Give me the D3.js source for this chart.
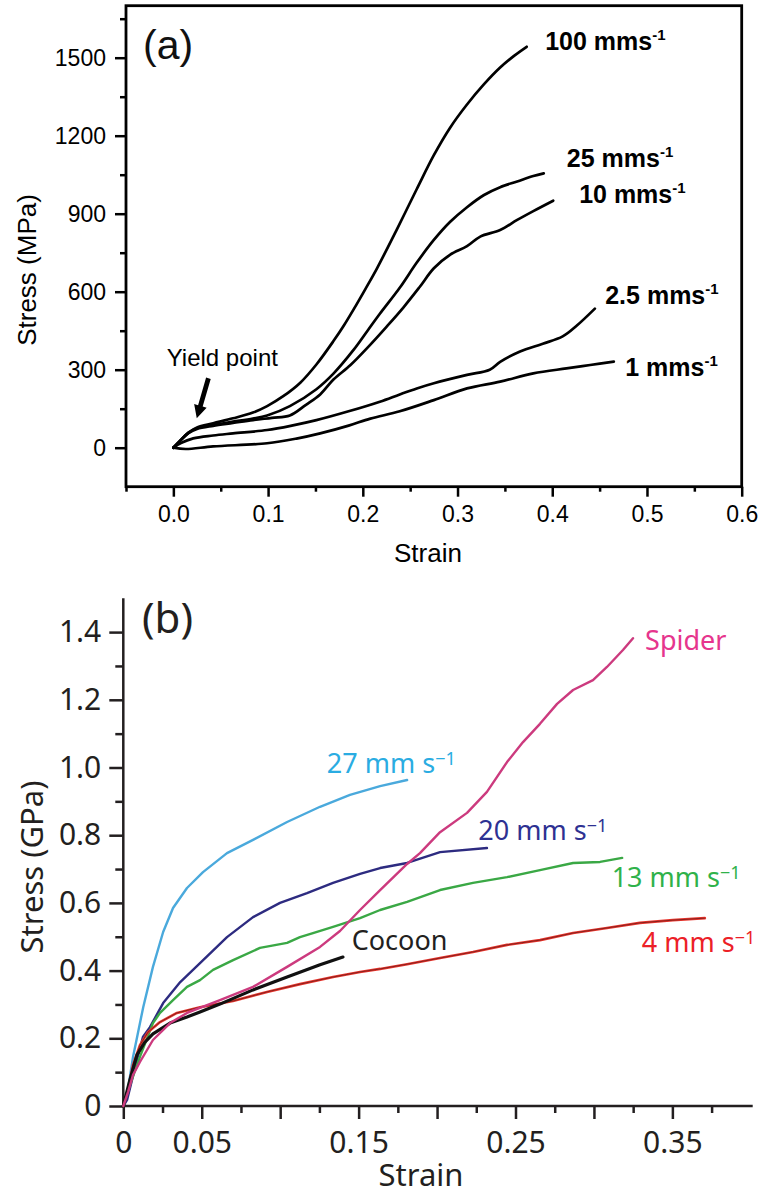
<!DOCTYPE html>
<html><head><meta charset="utf-8">
<script src="https://cdn.jsdelivr.net/npm/d3@7"></script>
<style>body{margin:0;background:#fff} svg{display:block}</style>
</head><body>
<svg id="c" width="762" height="1194"></svg>
<script>
// ---------- Panel (a) data: strain, stress (MPa) ----------
const aTicksY = [0,300,600,900,1200,1500];
const aMinorY = [150,450,750,1050,1350,1650];
const aTicksX = [0,0.1,0.2,0.3,0.4,0.5,0.6];
const aMinorX = [-0.05,0.05,0.15,0.25,0.35,0.45,0.55];
const aRateLabels = ["100 mms","25 mms","10 mms","2.5 mms","1 mms"];
const a100 = [[0,0],[0.008,30],[0.016,58],[0.025,78],[0.042,94],[0.063,113],[0.084,135],[0.099,160],[0.116,198],[0.134,250],[0.151,320],[0.169,410],[0.180,470],[0.190,530],[0.203,612],[0.215,690],[0.236,840],[0.257,995],[0.275,1125],[0.292,1230],[0.310,1320],[0.328,1398],[0.345,1462],[0.360,1508],[0.373,1542]];
const a25 = [[0,0],[0.008,30],[0.016,58],[0.025,75],[0.042,88],[0.063,100],[0.084,112],[0.099,124],[0.123,160],[0.151,225],[0.169,285],[0.190,375],[0.205,450],[0.218,515],[0.239,615],[0.257,712],[0.275,799],[0.292,868],[0.310,925],[0.328,972],[0.345,1002],[0.363,1024],[0.380,1045],[0.391,1055]];
const a10 = [[0,0],[0.008,30],[0.016,56],[0.025,72],[0.042,84],[0.063,95],[0.084,106],[0.104,115],[0.123,124],[0.140,165],[0.155,205],[0.169,262],[0.187,318],[0.205,385],[0.225,465],[0.243,540],[0.260,618],[0.275,690],[0.292,742],[0.310,775],[0.324,812],[0.345,837],[0.363,876],[0.380,910],[0.401,950]];
const a2_5 = [[0,0],[0.008,18],[0.021,36],[0.042,47],[0.063,55],[0.099,68],[0.125,85],[0.151,106],[0.185,140],[0.218,177],[0.239,205],[0.257,228],[0.275,248],[0.310,280],[0.334,300],[0.345,330],[0.366,370],[0.390,400],[0.411,428],[0.426,470],[0.445,535]];
const a1 = [[0,0],[0.013,-5],[0.042,5],[0.099,17],[0.130,35],[0.155,55],[0.185,85],[0.208,112],[0.239,140],[0.275,183],[0.310,228],[0.345,254],[0.380,286],[0.415,305],[0.440,318],[0.465,331]];
const aLabelAt = [[0.3925,1530],[0.4154,1080],[0.4284,941],[0.4559,553],[0.477,276]];
const aYield = {text:"Yield point", at:[-0.007,315], tail:[0.037,267], tip:[0.0247,113]};

// ---------- Panel (b) data: strain, stress (GPa) ----------
const bTicksY = [0,0.2,0.4,0.6,0.8,1.0,1.2,1.4];
const bMinorY = [0.1,0.3,0.5,0.7,0.9,1.1,1.3];
const bTicksX = [0,0.05,0.1,0.15,0.2,0.25,0.3,0.35];
const bLabeledX = [0,0.05,0.15,0.25,0.35];
const bMinorX = [0.025,0.075,0.125,0.175,0.225,0.275,0.325,0.375];
const b27 = [[0,0],[0.0024,0.032],[0.0062,0.145],[0.0127,0.292],[0.0189,0.411],[0.0254,0.514],[0.0317,0.585],[0.0406,0.644],[0.0508,0.691],[0.0661,0.747],[0.0827,0.786],[0.1044,0.839],[0.1254,0.884],[0.1445,0.919],[0.1637,0.945],[0.1809,0.963]];
const b20 = [[0,0],[0.0024,0.018],[0.0087,0.136],[0.0125,0.204],[0.017,0.233],[0.0254,0.304],[0.0363,0.366],[0.0489,0.422],[0.0661,0.499],[0.0827,0.558],[0.0999,0.6],[0.1171,0.629],[0.1337,0.659],[0.1509,0.686],[0.1637,0.703],[0.1809,0.718],[0.2019,0.75],[0.2318,0.762]];
const b13 = [[0,0],[0.0042,0.062],[0.0106,0.145],[0.0189,0.245],[0.0234,0.275],[0.0317,0.313],[0.0406,0.352],[0.0489,0.372],[0.0572,0.402],[0.07,0.431],[0.0871,0.467],[0.1044,0.482],[0.1126,0.499],[0.1209,0.511],[0.1337,0.529],[0.1509,0.555],[0.1637,0.579],[0.1809,0.603],[0.2019,0.638],[0.2229,0.659],[0.2446,0.676],[0.2656,0.697],[0.2867,0.718],[0.3039,0.721],[0.318,0.733]];
const b4 = [[0,0],[0.003,0.047],[0.0062,0.121],[0.0106,0.18],[0.0157,0.218],[0.0234,0.248],[0.0342,0.275],[0.0489,0.292],[0.0699,0.31],[0.0916,0.337],[0.1126,0.36],[0.1337,0.381],[0.1509,0.396],[0.1637,0.405],[0.1809,0.419],[0.2019,0.437],[0.2229,0.455],[0.2446,0.476],[0.2656,0.49],[0.2867,0.511],[0.3083,0.526],[0.3293,0.541],[0.3503,0.549],[0.3707,0.555]];
const bCocoon = [[0,0],[0.0042,0.077],[0.0087,0.151],[0.0138,0.189],[0.0189,0.213],[0.0298,0.245],[0.0406,0.263],[0.0489,0.278],[0.0616,0.301],[0.0827,0.343],[0.1044,0.381],[0.1254,0.417],[0.14,0.44]];
const bSpider = [[0,0],[0.003,0.041],[0.0062,0.092],[0.0106,0.13],[0.0189,0.195],[0.0298,0.245],[0.0406,0.275],[0.0616,0.313],[0.0827,0.352],[0.1044,0.411],[0.1254,0.47],[0.1381,0.517],[0.1509,0.579],[0.1637,0.638],[0.1809,0.715],[0.1891,0.747],[0.2019,0.809],[0.2191,0.866],[0.2318,0.928],[0.2446,1.016],[0.2548,1.075],[0.2656,1.129],[0.2765,1.188],[0.2867,1.229],[0.2994,1.258],[0.3083,1.297],[0.3185,1.347],[0.3249,1.382]];
const bNames = ["27 mm s","20 mm s","13 mm s","4 mm s","Cocoon","Spider"];
const bLabelAt = [[0.1297,0.985],[0.2263,0.786],[0.3113,0.646],[0.3305,0.456],[0.1456,0.461],[0.3326,1.347]];

const svg = d3.select("#c");

// ================= Panel (a) =================
const FA = "'Liberation Sans', Arial, Helvetica, sans-serif";
const xA = d3.scaleLinear().domain([-0.05,0.6]).range([126,741.7]);
const yA = d3.scaleLinear().domain([-150,1700]).range([486.7,5.7]);
const gA = svg.append("g").attr("font-family",FA);

function styleAxis(g, size, font, color, sw){
  g.attr("font-family",font).attr("font-size",size);
  g.select(".domain").remove();
  g.selectAll(".tick line").attr("stroke",color).attr("stroke-width",sw);
  g.selectAll(".tick text").attr("fill",color);
}
gA.append("g").attr("transform",`translate(${xA(-0.05)},0)`)
  .call(d3.axisLeft(yA).tickValues(aTicksY).tickSize(11).tickPadding(9).tickFormat(d3.format("d")))
  .call(g=>styleAxis(g,23,FA,"#000",2.5));
gA.append("g").attr("transform",`translate(${xA(-0.05)},0)`)
  .call(d3.axisLeft(yA).tickValues(aMinorY).tickSize(6).tickFormat(""))
  .call(g=>styleAxis(g,23,FA,"#000",2.5));
gA.append("g").attr("transform",`translate(0,${yA(-150)})`)
  .call(d3.axisBottom(xA).tickValues(aTicksX).tickSize(10).tickPadding(9).tickFormat(d3.format(".1f")))
  .call(g=>styleAxis(g,23,FA,"#000",2.5));
gA.append("g").attr("transform",`translate(0,${yA(-150)})`)
  .call(d3.axisBottom(xA).tickValues(aMinorX).tickSize(5).tickFormat(""))
  .call(g=>styleAxis(g,23,FA,"#000",2.5));
gA.append("rect")
  .attr("x",xA(-0.05)).attr("y",yA(1700))
  .attr("width",xA(0.6)-xA(-0.05)).attr("height",yA(-150)-yA(1700))
  .attr("fill","none").attr("stroke","#000").attr("stroke-width",2.8);

const lineA = d3.line().x(d=>xA(d[0])).y(d=>yA(d[1])).curve(d3.curveCatmullRom.alpha(0.5));
[a100,a25,a10,a2_5,a1].forEach(s=>{
  gA.append("path").attr("d",lineA(s)).attr("fill","none").attr("stroke","#000")
    .attr("stroke-width",2.7).attr("stroke-linejoin","round").attr("stroke-linecap","round");
});
aRateLabels.forEach((t,i)=>{
  const tx = gA.append("text").attr("x",xA(aLabelAt[i][0])).attr("y",yA(aLabelAt[i][1]))
    .attr("font-size",25).attr("font-weight","bold").attr("fill","#000");
  tx.append("tspan").text(t);
  tx.append("tspan").attr("font-size",15).attr("dy",-10).text("-1");
});
gA.append("text").attr("x",xA(aYield.at[0])).attr("y",yA(aYield.at[1]))
  .attr("font-size",24).attr("fill","#000").text(aYield.text);
(function(){
  const x1=xA(aYield.tail[0]), y1=yA(aYield.tail[1]), x2=xA(aYield.tip[0]), y2=yA(aYield.tip[1]);
  const L=Math.hypot(x2-x1,y2-y1), ux=(x2-x1)/L, uy=(y2-y1)/L, nx=-uy, ny=ux;
  const sw=2.4, hl=13, hw=6.5;
  const bx=x2-ux*hl, by=y2-uy*hl;
  const pts=[[x1+nx*sw,y1+ny*sw],[bx+nx*sw,by+ny*sw],[bx+nx*hw,by+ny*hw],[x2,y2],[bx-nx*hw,by-ny*hw],[bx-nx*sw,by-ny*sw],[x1-nx*sw,y1-ny*sw]];
  gA.append("path").attr("d","M"+pts.map(p=>p.join(",")).join("L")+"Z").attr("fill","#000");
})();
gA.append("text").attr("x",143).attr("y",59).attr("font-size",41).attr("fill","#111").text("(a)");
gA.append("text").attr("x",428).attr("y",562).attr("text-anchor","middle").attr("font-size",26).attr("fill","#000").text("Strain");
gA.append("text").attr("transform","translate(36,270) rotate(-90)").attr("text-anchor","middle")
  .attr("font-size",26).attr("fill","#000").text("Stress (MPa)");

// ================= Panel (b) =================
const FB = "'Noto Sans', 'Open Sans', sans-serif";
const xB = d3.scaleLinear().domain([0,0.4012]).range([123.3,752.7]);
const yB = d3.scaleLinear().domain([0,1.5]).range([1106,598.25]);
const gB = svg.append("g").attr("font-family",FB);
const axC = "#231f20";
gB.append("g").attr("transform",`translate(${xB(0)},0)`)
  .call(d3.axisLeft(yB).tickValues(bTicksY).tickSize(14).tickPadding(8).tickFormat(d=>d===0?"0":d3.format(".1f")(d)))
  .call(g=>styleAxis(g,30,FB,axC,2.5));
gB.append("g").attr("transform",`translate(${xB(0)},0)`)
  .call(d3.axisLeft(yB).tickValues(bMinorY).tickSize(8).tickFormat(""))
  .call(g=>styleAxis(g,30,FB,axC,2.5));
gB.append("g").attr("transform",`translate(0,${yB(0)})`)
  .call(d3.axisBottom(xB).tickValues(bTicksX).tickSize(13).tickPadding(13)
    .tickFormat(d=>bLabeledX.some(v=>Math.abs(v-d)<1e-9)?(d===0?"0":String(+d.toFixed(2))):""))
  .call(g=>styleAxis(g,30,FB,axC,2.5));
gB.append("g").attr("transform",`translate(0,${yB(0)})`)
  .call(d3.axisBottom(xB).tickValues(bMinorX).tickSize(7).tickFormat(""))
  .call(g=>styleAxis(g,30,FB,axC,2.5));
gB.append("line").attr("x1",xB(0)).attr("x2",xB(0)).attr("y1",yB(1.5)).attr("y2",yB(0)+1.2)
  .attr("stroke",axC).attr("stroke-width",2.5);
gB.append("line").attr("x1",xB(0)-1.2).attr("x2",xB(0.4012)).attr("y1",yB(0)).attr("y2",yB(0))
  .attr("stroke",axC).attr("stroke-width",2.5);

const lineB = d3.line().x(d=>xB(d[0])).y(d=>yB(d[1]));
const bSeries = [b27,b20,b13,b4,bCocoon,bSpider];
const bLineColors = ["#4aa9dc","#2d2b80","#3aa845","#e8342c","#111111","#cc3a7e"];
const bLabelColors = ["#2aace2","#2e3192","#2fb24a","#ec2027","#231f20","#e6358d"];
const bWidths = [2.4,2.4,2.4,2.6,3.2,2.4];
bSeries.forEach((s,i)=>{
  gB.append("path").attr("d",lineB(s)).attr("fill","none").attr("stroke",bLineColors[i])
    .attr("stroke-width",bWidths[i]).attr("stroke-linejoin","round").attr("stroke-linecap","round");
  if(i===3){
    gB.append("path").attr("d",lineB(s)).attr("fill","none").attr("stroke","#3a1010")
      .attr("stroke-width",0.8).attr("stroke-opacity",0.7);
  }
});
bNames.forEach((t,i)=>{
  const tx = gB.append("text").attr("x",xB(bLabelAt[i][0])).attr("y",yB(bLabelAt[i][1]))
    .attr("font-size",27).attr("fill",bLabelColors[i]);
  tx.append("tspan").text(t);
  if(i<4) tx.append("tspan").attr("font-size",18).attr("dy",-8).text("\u22121");
});
gB.append("text").attr("x",142).attr("y",633).attr("font-size",42).attr("fill","#231f20").text("(b)");
gB.append("text").attr("x",421).attr("y",1186).attr("text-anchor","middle").attr("font-size",31).attr("fill","#231f20").text("Strain");
gB.append("text").attr("transform","translate(43,867) rotate(-90)").attr("text-anchor","middle")
  .attr("font-size",31).attr("fill","#231f20").text("Stress (GPa)");
</script>
</body></html>
